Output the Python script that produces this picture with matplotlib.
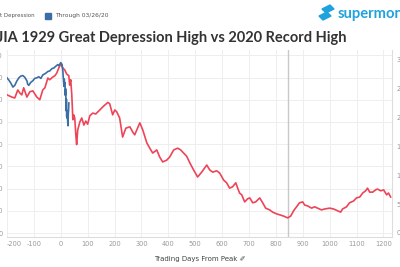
import matplotlib.pyplot as plt
from matplotlib.patches import Polygon, Rectangle

# DJIA 1929 (left axis), trading days from the 09/03/1929 peak
days_1929 = [-200, -182, -171, -160, -152, -145, -138, -126, -115, -104, -89, -78,
             -67, -59, -48, -41, -30, -22, -15, -7, 0, 4, 7, 15, 22, 30, 33, 37,
             41, 45, 48, 52, 56, 59, 63, 71, 78, 86, 93, 100, 108, 119, 130, 145,
             160, 175, 182, 193, 201, 208, 219, 230, 242, 257, 268, 275, 294, 305,
             320, 331, 342, 357, 368, 379, 394, 405, 420, 435, 446, 454, 468, 480,
             494, 509, 524, 543, 554, 565, 580, 591, 606, 617, 628, 639, 651, 658,
             665, 673, 684, 695, 703, 714, 725, 740, 751, 762, 777, 788, 803, 814,
             829, 844, 855, 866, 877, 888, 900, 907, 918, 933, 944, 955, 970, 981,
             1000, 1015, 1030, 1041, 1048, 1063, 1074, 1089, 1100, 1112, 1123, 1134,
             1141, 1149, 1160, 1171, 1178, 1190, 1201, 1212, 1219, 1227]
djia_1929 = [311, 306, 304, 322, 315, 311, 327, 306, 318, 320, 306, 300,
             322, 327, 349, 345, 351, 354, 360, 372, 381, 376, 372, 367, 358, 354, 333, 345,
             311, 255, 266, 259, 221, 199, 232, 250, 259, 243, 252, 245, 264, 270, 268, 277,
             286, 294, 291, 266, 277, 273, 259, 216, 236, 239, 227, 221, 248, 232,
             203, 191, 180, 187, 171, 160, 164, 171, 187, 191, 187, 182, 173, 158,
             142, 126, 137, 153, 142, 137, 140, 135, 119, 113, 101, 104, 113, 101,
             90, 86, 70, 77, 79, 68, 70, 79, 68, 56, 52, 47, 43, 41,
             38, 34, 38, 50, 59, 68, 70, 63, 61, 56, 59, 56, 52, 54,
             56, 54, 50, 47, 54, 59, 68, 72, 79, 81, 90, 95,
             101, 92, 92, 97, 99, 95, 97, 86, 90, 81]

# DJIA 2020 (right axis), trading days from the 02/12/2020 peak
days_2020 = [-200, -193, -186, -178, -171, -164, -156, -149, -141, -134, -126, -123,
             -119, -112, -104, -97, -89, -82, -74, -67, -56, -48, -41, -33, -26, -19,
             -11, -7, 0, 5, 8, 9, 12, 13, 14, 15, 16, 17, 18, 19, 20, 21, 22, 23, 24,
             25, 26, 27, 28, 29, 30]
djia_2020 = [26900, 26500, 26000, 25300, 25600, 26300, 26900, 27200, 27300, 27000,
             26400, 25800, 25600, 26100, 26400, 26800, 26900, 27100, 26800, 27400,
             27700, 28000, 28100, 28500, 28600, 28900, 29200, 29000, 29550, 29200,
             27960, 27080, 25400, 26700, 25900, 26100, 25860, 23850, 25020, 23550,
             21200, 23190, 20190, 21240, 19900, 20090, 19170, 18590, 20700, 21200,
             22550]

bottom_day = 844
x_ticks = list(range(-200, 1300, 100))
left_ticks = list(range(0, 450, 50))
right_ticks = list(range(0, 35000, 5000))

red = '#ee4457'
blue = '#3b6ea5'
grey_txt = '#999999'

fig = plt.figure(figsize=(4, 2.67), dpi=100)
ax = fig.add_axes([0.0175, 1 - 237 / 267, 0.9625, (237 - 50) / 267])
ax2 = ax.twinx()

ax.plot(days_1929, djia_1929, color=red, lw=1.2, zorder=3)
ax2.plot(days_2020, djia_2020, color=blue, lw=1.2, zorder=3)
ax.axvline(bottom_day, color='#c8c8c8', lw=1.0, zorder=2)

ax.set_xlim(-200, 1232)
ax.set_ylim(-9, 412)
ax2.set_ylim(-694, 31730)

ax.set_xticks(x_ticks)
ax.set_yticks(left_ticks)
ax2.set_yticks(right_ticks)
ax.set_xticklabels([str(t) for t in x_ticks], fontsize=4.8, color=grey_txt)
ax.get_xticklabels()[0].set_horizontalalignment('left')
ax.set_yticklabels([str(t) for t in left_ticks], fontsize=4.8, color=grey_txt)
ax2.set_yticklabels([str(t) for t in right_ticks], fontsize=4.8, color=grey_txt)
ax.tick_params(axis='both', length=0, pad=3)
ax2.tick_params(axis='y', length=0, pad=3)

ax.grid(True, color='#eeeeee', lw=0.7)
ax.set_axisbelow(True)
for a in (ax, ax2):
    for s in a.spines.values():
        s.set_visible(False)
ax2.spines['right'].set_visible(True)
ax2.spines['right'].set_color('#dddddd')
ax.spines['bottom'].set_visible(True)
ax.spines['bottom'].set_color('#dddddd')

ax.set_xlabel('Trading Days From Peak \u2710', fontsize=5, color='#444444', labelpad=6)

fig.text(347 / 400, 1 - 38 / 267, 'DJIA 1929 Great Depression High vs 2020 Record High',
         ha='right', va='center', fontsize=10.55, fontweight='bold', color='#333333',
         family='Lato')

# legend row
fig.text(35 / 400, 1 - 16 / 267, '1929 Great Depression', ha='right', va='center',
         fontsize=4.0, color='#555555')
fig.patches.append(Rectangle((-12 / 400, 1 - 19 / 267), 6 / 400, 6 / 267,
                             transform=fig.transFigure, color=red))
fig.patches.append(Rectangle((45 / 400, 1 - 19 / 267), 6 / 400, 6 / 267,
                             transform=fig.transFigure, color=blue))
fig.text(55 / 400, 1 - 16 / 267, 'Through 03/26/20', ha='left', va='center',
         fontsize=4.3, color='#555555')

# logo
teal = '#1fa3dc'
fig.patches.append(Polygon([(322 / 400, 1 - 9 / 267), (330 / 400, 1 - 5 / 267),
                            (334 / 400, 1 - 9 / 267), (326 / 400, 1 - 13 / 267)],
                           closed=True, transform=fig.transFigure, color=teal))
fig.patches.append(Polygon([(319 / 400, 1 - 16 / 267), (327 / 400, 1 - 12 / 267),
                            (331 / 400, 1 - 16 / 267), (323 / 400, 1 - 20 / 267)],
                           closed=True, transform=fig.transFigure, color=teal))
fig.text(338 / 400, 1 - 14 / 267, 'supermoney', ha='left', va='center',
         fontsize=10.6, fontweight='bold', color=teal, family='Lato')

fig.savefig('out.png', dpi=100)
